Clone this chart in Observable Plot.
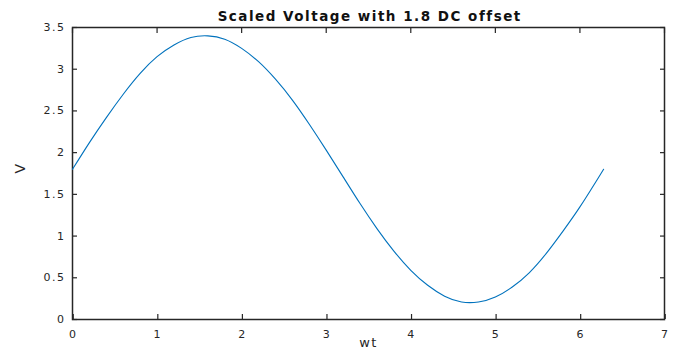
<!DOCTYPE html>
<html><head><meta charset="utf-8">
<script src="https://cdn.jsdelivr.net/npm/d3@7"></script>
<script src="https://cdn.jsdelivr.net/npm/@observablehq/plot@0.6"></script>
<style>body{margin:0;background:#fff;} svg{display:block;}</style>
</head><body><div id="chart"></div>
<script>
const wt = [0, 0.2, 0.4, 0.6, 0.8, 1.0, 1.2, 1.4, 1.6, 1.8, 2.0, 2.2, 2.4, 2.6, 2.8, 3.0, 3.2, 3.4, 3.6, 3.8, 4.0, 4.2, 4.4, 4.6, 4.8, 5.0, 5.2, 5.4, 5.6, 5.8, 6.0, 6.2, 6.28];
const V = [1.80, 2.12, 2.42, 2.70, 2.95, 3.15, 3.29, 3.38, 3.40, 3.36, 3.25, 3.09, 2.88, 2.63, 2.34, 2.03, 1.71, 1.39, 1.09, 0.82, 0.59, 0.41, 0.28, 0.21, 0.21, 0.27, 0.39, 0.56, 0.79, 1.06, 1.35, 1.67, 1.80];
const xTicks = [0, 1, 2, 3, 4, 5, 6, 7];
const yTicks = [0, 0.5, 1, 1.5, 2, 2.5, 3, 3.5];
const title = "Scaled Voltage with 1.8 DC offset";
const data = wt.map((x, i) => ({x, y: V[i]}));
const ink = "#262626";
const plot = Plot.plot({
  width: 676, height: 351,
  marginTop: 27, marginBottom: 32, marginLeft: 72, marginRight: 12,
  style: {fontFamily: "DejaVu Sans, Liberation Sans, sans-serif", fontSize: "11px", color: ink, background: "#fff", letterSpacing: "1.5px"},
  x: {domain: [0, 7]},
  y: {domain: [0, 3.5]},
  marks: [
    Plot.axisX({ticks: xTicks, anchor: "bottom", tickSize: -5, tickPadding: 16, dx: 0.75, label: null, tickFormat: d => String(d), stroke: ink, strokeWidth: 1.2}),
    Plot.axisX({ticks: xTicks, anchor: "top", tickSize: -5, text: null, label: null, stroke: ink, strokeWidth: 1.2}),
    Plot.axisY({ticks: yTicks, anchor: "left", tickSize: -5, tickPadding: 12, label: null, tickFormat: d => String(d), stroke: ink, strokeWidth: 1.2}),
    Plot.axisY({ticks: yTicks, anchor: "right", tickSize: -5, text: null, label: null, stroke: ink, strokeWidth: 1.2}),
    Plot.frame({stroke: ink, strokeWidth: 1.5}),
    Plot.line(data, {x: "x", y: "y", stroke: "#0072BD", strokeWidth: 1.1, curve: "natural"}),
    Plot.text([title], {text: d => d, frameAnchor: "top", lineAnchor: "middle", dy: -11, dx: 1.2, fontWeight: "bold", fontSize: 13.5, fill: "#111", style: {letterSpacing: "2.5px"}}),
    Plot.text(["wt"], {text: d => d, frameAnchor: "bottom", dy: 27, fontSize: 13, fill: ink}),
    Plot.text(["V"], {text: d => d, frameAnchor: "left", dx: -52, rotate: -90, fontSize: 14, fill: ink})
  ]
});
document.getElementById("chart").append(plot);
</script>
</body></html>
